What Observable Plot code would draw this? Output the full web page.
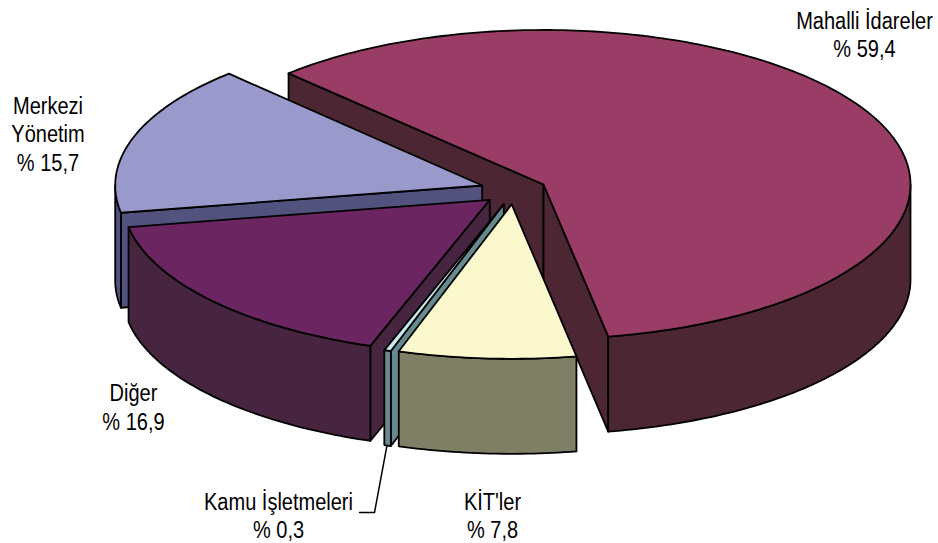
<!doctype html>
<html lang="tr">
<head>
<meta charset="utf-8">
<style>
html,body{margin:0;padding:0;background:#fff}
svg{display:block}
</style>
<script src="https://cdn.jsdelivr.net/npm/d3@7"></script>
<script src="https://cdn.jsdelivr.net/npm/@observablehq/plot@0.6"></script>
</head>
<body>
<div id="chart"></div>
<script>
// Data, clockwise from the first slice
const categories = ["Mahalli İdareler", "KİT'ler", "Kamu İşletmeleri", "Diğer", "Merkezi\nYönetim"];
const shares = [59.4, 7.8, 0.3, 16.9, 15.7];

// Styles
const topColors  = ["#993D66", "#FBF8CE", "#C6E9EC", "#6B2560", "#9999CC"];
const sideColors = ["#4D2633", "#7F7F66", "#668A90", "#472440", "#52527F"];

// Layout of the tilted pie (pixels of the 938x543 frame)
const radiusX = 367, radiusY = 154.5, depth = 95, firstAngle = -44;
const apexX = [543, 511.2, 503.3, 489.3, 481.7];
const apexY = [184, 203.8, 203.5, 199.3, 185];
const labelX = [864, 492, 278, 133, 47.5];
const labelY = [33.2, 514.6, 514.6, 406, 132.5];
const paintOrder = [0, 4, 3, 2, 1];
const textSqueeze = 0.87;

const rad = d => d * Math.PI / 180;
let acc = firstAngle;
const slices = shares.map((v, i) => {
  const start = acc; acc += v * 3.6;
  return {i, start, end: acc};
});
const pt = (s, t, drop = 0) => ({
  x: apexX[s.i] + radiusX * Math.sin(rad(t)),
  y: apexY[s.i] - radiusY * Math.cos(rad(t)) + drop
});
const apex = (s, drop = 0) => ({x: apexX[s.i], y: apexY[s.i] + drop});
const arc = (s, a, b, drop = 0) => {
  const n = Math.max(1, Math.ceil(Math.abs(b - a)));
  return d3.range(n + 1).map(k => pt(s, a + (b - a) * k / n, drop));
};

const face = (points, fill) => Plot.line(points, {
  x: "x", y: "y", curve: "linear-closed", fill,
  stroke: "#000", strokeWidth: 1.8, strokeLinejoin: "round"
});

const faces = [];
for (const idx of paintOrder) {
  const s = slices[idx], side = sideColors[idx];
  const wall = t => [pt(s, t), apex(s), apex(s, depth), pt(s, t, depth)];
  if (Math.cos(rad(s.start - 90)) < 0) faces.push(face(wall(s.start), side));
  if (Math.cos(rad(s.end + 90)) < 0) faces.push(face(wall(s.end), side));
  const a = Math.max(s.start, 90), b = Math.min(s.end, 270);
  if (a < b) faces.push(face([...arc(s, a, b), ...arc(s, b, a, depth)], side));
  faces.push(face([apex(s), ...arc(s, s.start, s.end)], topColors[idx]));
}

// Leader from the thin slice's foot to its label
const kamu = slices[2];
const foot = pt(kamu, (kamu.start + kamu.end) / 2 + 0.1, depth);
const elbowY = 512;
const leader = [foot, {x: labelX[2] + 96, y: elbowY}, {x: labelX[2] + 81, y: elbowY}];

const labels = categories.map((c, i) => ({
  text: `${c}\n% ${shares[i].toFixed(1).replace(".", ",")}`,
  x: labelX[i], y: labelY[i]
}));

const plot = Plot.plot({
  width: 938, height: 543,
  margin: 0,
  x: {axis: null, domain: [0, 938], range: [0, 938]},
  y: {axis: null, domain: [0, 543], range: [0, 543]},
  style: {background: "#fff", overflow: "visible"},
  marks: [
    ...faces,
    Plot.line(leader, {x: "x", y: "y", stroke: "#000", strokeWidth: 1.5}),
    Plot.text(labels, {
      x: "x", y: "y", text: "text",
      fontFamily: "'Liberation Sans',sans-serif",
      fontSize: 23, lineHeight: 1.24, fill: "#000", textAnchor: "middle"
    })
  ]
});
// Condensed lettering: no condensed face is installed, so narrow the real text
plot.querySelectorAll("text").forEach(t => {
  t.setAttribute("transform", `${t.getAttribute("transform") || ""} scale(${textSqueeze},1)`);
});
document.getElementById("chart").append(plot);
</script>
</body>
</html>
